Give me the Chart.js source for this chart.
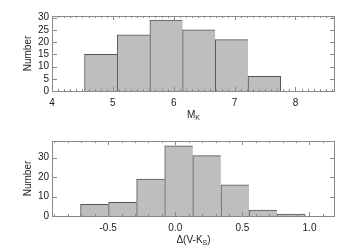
<!DOCTYPE html>
<html lang="en">
<head>
    <meta charset="UTF-8">
    <title>Histograms</title>
    <script src="https://cdn.jsdelivr.net/npm/chart.js@4.4.1/dist/chart.umd.min.js"></script>
    <style>
        * { margin: 0; padding: 0; box-sizing: border-box; }
        body { background: #fff; width: 350px; height: 250px; overflow: hidden; }
        .panel { width: 350px; height: 125px; position: relative; }
    </style>
</head>
<body>
    <div class="panel"><canvas id="mkChart"></canvas></div>
    <div class="panel"><canvas id="dvkChart"></canvas></div>

    <script>
        // Top panel: absolute K magnitude
        const mkCenters = [4.803, 5.340, 5.877, 6.414, 6.951, 7.489];
        const mkCounts = [15, 23, 29, 25, 21, 6];
        const mkXTicks = [4, 5, 6, 7, 8];
        const mkYTicks = [0, 5, 10, 15, 20, 25, 30];

        // Bottom panel: delta (V-Ks)
        const dvkCenters = [-0.601, -0.392, -0.183, 0.026, 0.235, 0.445, 0.654, 0.863];
        const dvkCounts = [6, 7, 19, 36, 31, 16, 3, 1];
        const dvkXTicks = [-0.5, 0.0, 0.5, 1.0];
        const dvkYTicks = [0, 10, 20, 30];

        const font = { family: "'Liberation Sans', Arial, sans-serif", size: 10 };
        const frameColor = '#8a8a8a';

        // IDL-style box with inward ticks on all four sides, plus subscripted x title
        const boxPlugin = {
            id: 'box',
            afterDraw(chart, args, opts) {
                const { ctx, chartArea: a, scales } = chart;
                const x = scales.x, y = scales.y;
                ctx.save();
                ctx.strokeStyle = frameColor;
                ctx.lineWidth = 1;
                ctx.strokeRect(a.left + 0.5, a.top + 0.5, a.right - a.left - 1, a.bottom - a.top);
                ctx.beginPath();
                // minor x ticks
                const step = opts.minorStep;
                for (let v = Math.ceil(x.min / step) * step; v <= x.max; v += step) {
                    const px = Math.round(x.getPixelForValue(v)) + 0.5;
                    ctx.moveTo(px, a.bottom); ctx.lineTo(px, a.bottom - 2);
                    ctx.moveTo(px, a.top); ctx.lineTo(px, a.top + 2);
                }
                // major x ticks
                opts.xTicks.forEach(v => {
                    const px = Math.round(x.getPixelForValue(v)) + 0.5;
                    ctx.moveTo(px, a.bottom); ctx.lineTo(px, a.bottom - 4);
                    ctx.moveTo(px, a.top); ctx.lineTo(px, a.top + 4);
                });
                // y ticks
                opts.yTicks.forEach(v => {
                    const py = Math.round(y.getPixelForValue(v)) + 0.5;
                    ctx.moveTo(a.left, py); ctx.lineTo(a.left + 5, py);
                    ctx.moveTo(a.right, py); ctx.lineTo(a.right - 5, py);
                });
                ctx.stroke();

                // x title with subscript
                ctx.fillStyle = '#222';
                ctx.textBaseline = 'middle';
                const big = `${font.size}px ${font.family}`;
                const small = `7px ${font.family}`;
                ctx.font = big;
                const w1 = ctx.measureText(opts.title[0]).width;
                const w3 = ctx.measureText(opts.title[2]).width;
                ctx.font = small;
                const w2 = ctx.measureText(opts.title[1]).width;
                let tx = (a.left + a.right) / 2 - (w1 + w2 + w3) / 2;
                const ty = opts.titleY;
                ctx.font = big;
                ctx.fillText(opts.title[0], tx, ty);
                ctx.font = small;
                ctx.fillText(opts.title[1], tx + w1, ty + 3);
                ctx.font = big;
                ctx.fillText(opts.title[2], tx + w1 + w2, ty);
                ctx.restore();
            }
        };

        function makeHist(id, centers, counts, xMin, xMax, yMax, xTicks, yTicks, fmt, minorStep, title) {
            const last = counts.length - 1;
            return new Chart(document.getElementById(id), {
                type: 'bar',
                data: {
                    datasets: [{
                        data: centers.map((c, i) => ({ x: c, y: counts[i] })),
                        backgroundColor: '#bebebe',
                        borderColor: '#555',
                        borderWidth: ctx => ({ left: 1, top: 1, bottom: 0, right: ctx.dataIndex === last ? 1 : 0 }),
                        borderSkipped: false,
                        barPercentage: 1,
                        categoryPercentage: 1
                    }]
                },
                options: {
                    responsive: true,
                    maintainAspectRatio: false,
                    animation: false,
                    devicePixelRatio: 1,
                    layout: { padding: { top: 16, right: 15, left: 0, bottom: 0 } },
                    plugins: {
                        legend: { display: false },
                        tooltip: { enabled: false },
                        box: { xTicks, yTicks, minorStep, title, titleY: 115 }
                    },
                    scales: {
                        x: {
                            type: 'linear',
                            offset: false,
                            min: xMin, max: xMax,
                            grid: { display: false, drawTicks: false },
                            border: { display: false },
                            afterBuildTicks: s => { s.ticks = xTicks.map(v => ({ value: v })); },
                            afterFit: s => { s.height = 34; },
                            ticks: { font, color: '#222', padding: 6, maxRotation: 0, autoSkip: false, callback: fmt }
                        },
                        y: {
                            min: 0, max: yMax,
                            grid: { display: false, drawTicks: false },
                            border: { display: false },
                            afterBuildTicks: s => { s.ticks = yTicks.map(v => ({ value: v })); },
                            afterFit: s => { s.width = 52; },
                            ticks: { font, color: '#222', padding: 3, autoSkip: false },
                            title: { display: true, text: 'Number', font, color: '#222', padding: { top: 22, bottom: 0 } }
                        }
                    }
                },
                plugins: [boxPlugin]
            });
        }

        makeHist('mkChart', mkCenters, mkCounts, 4, 8.65, 30.7, mkXTicks, mkYTicks,
            v => String(v), 0.1, ['M', 'K', '']);
        makeHist('dvkChart', dvkCenters, dvkCounts, -0.918, 1.19, 38.5, dvkXTicks, dvkYTicks,
            v => v.toFixed(1), 0.1, ['\u0394(V-K', 'S', ')']);
    </script>
</body>
</html>
